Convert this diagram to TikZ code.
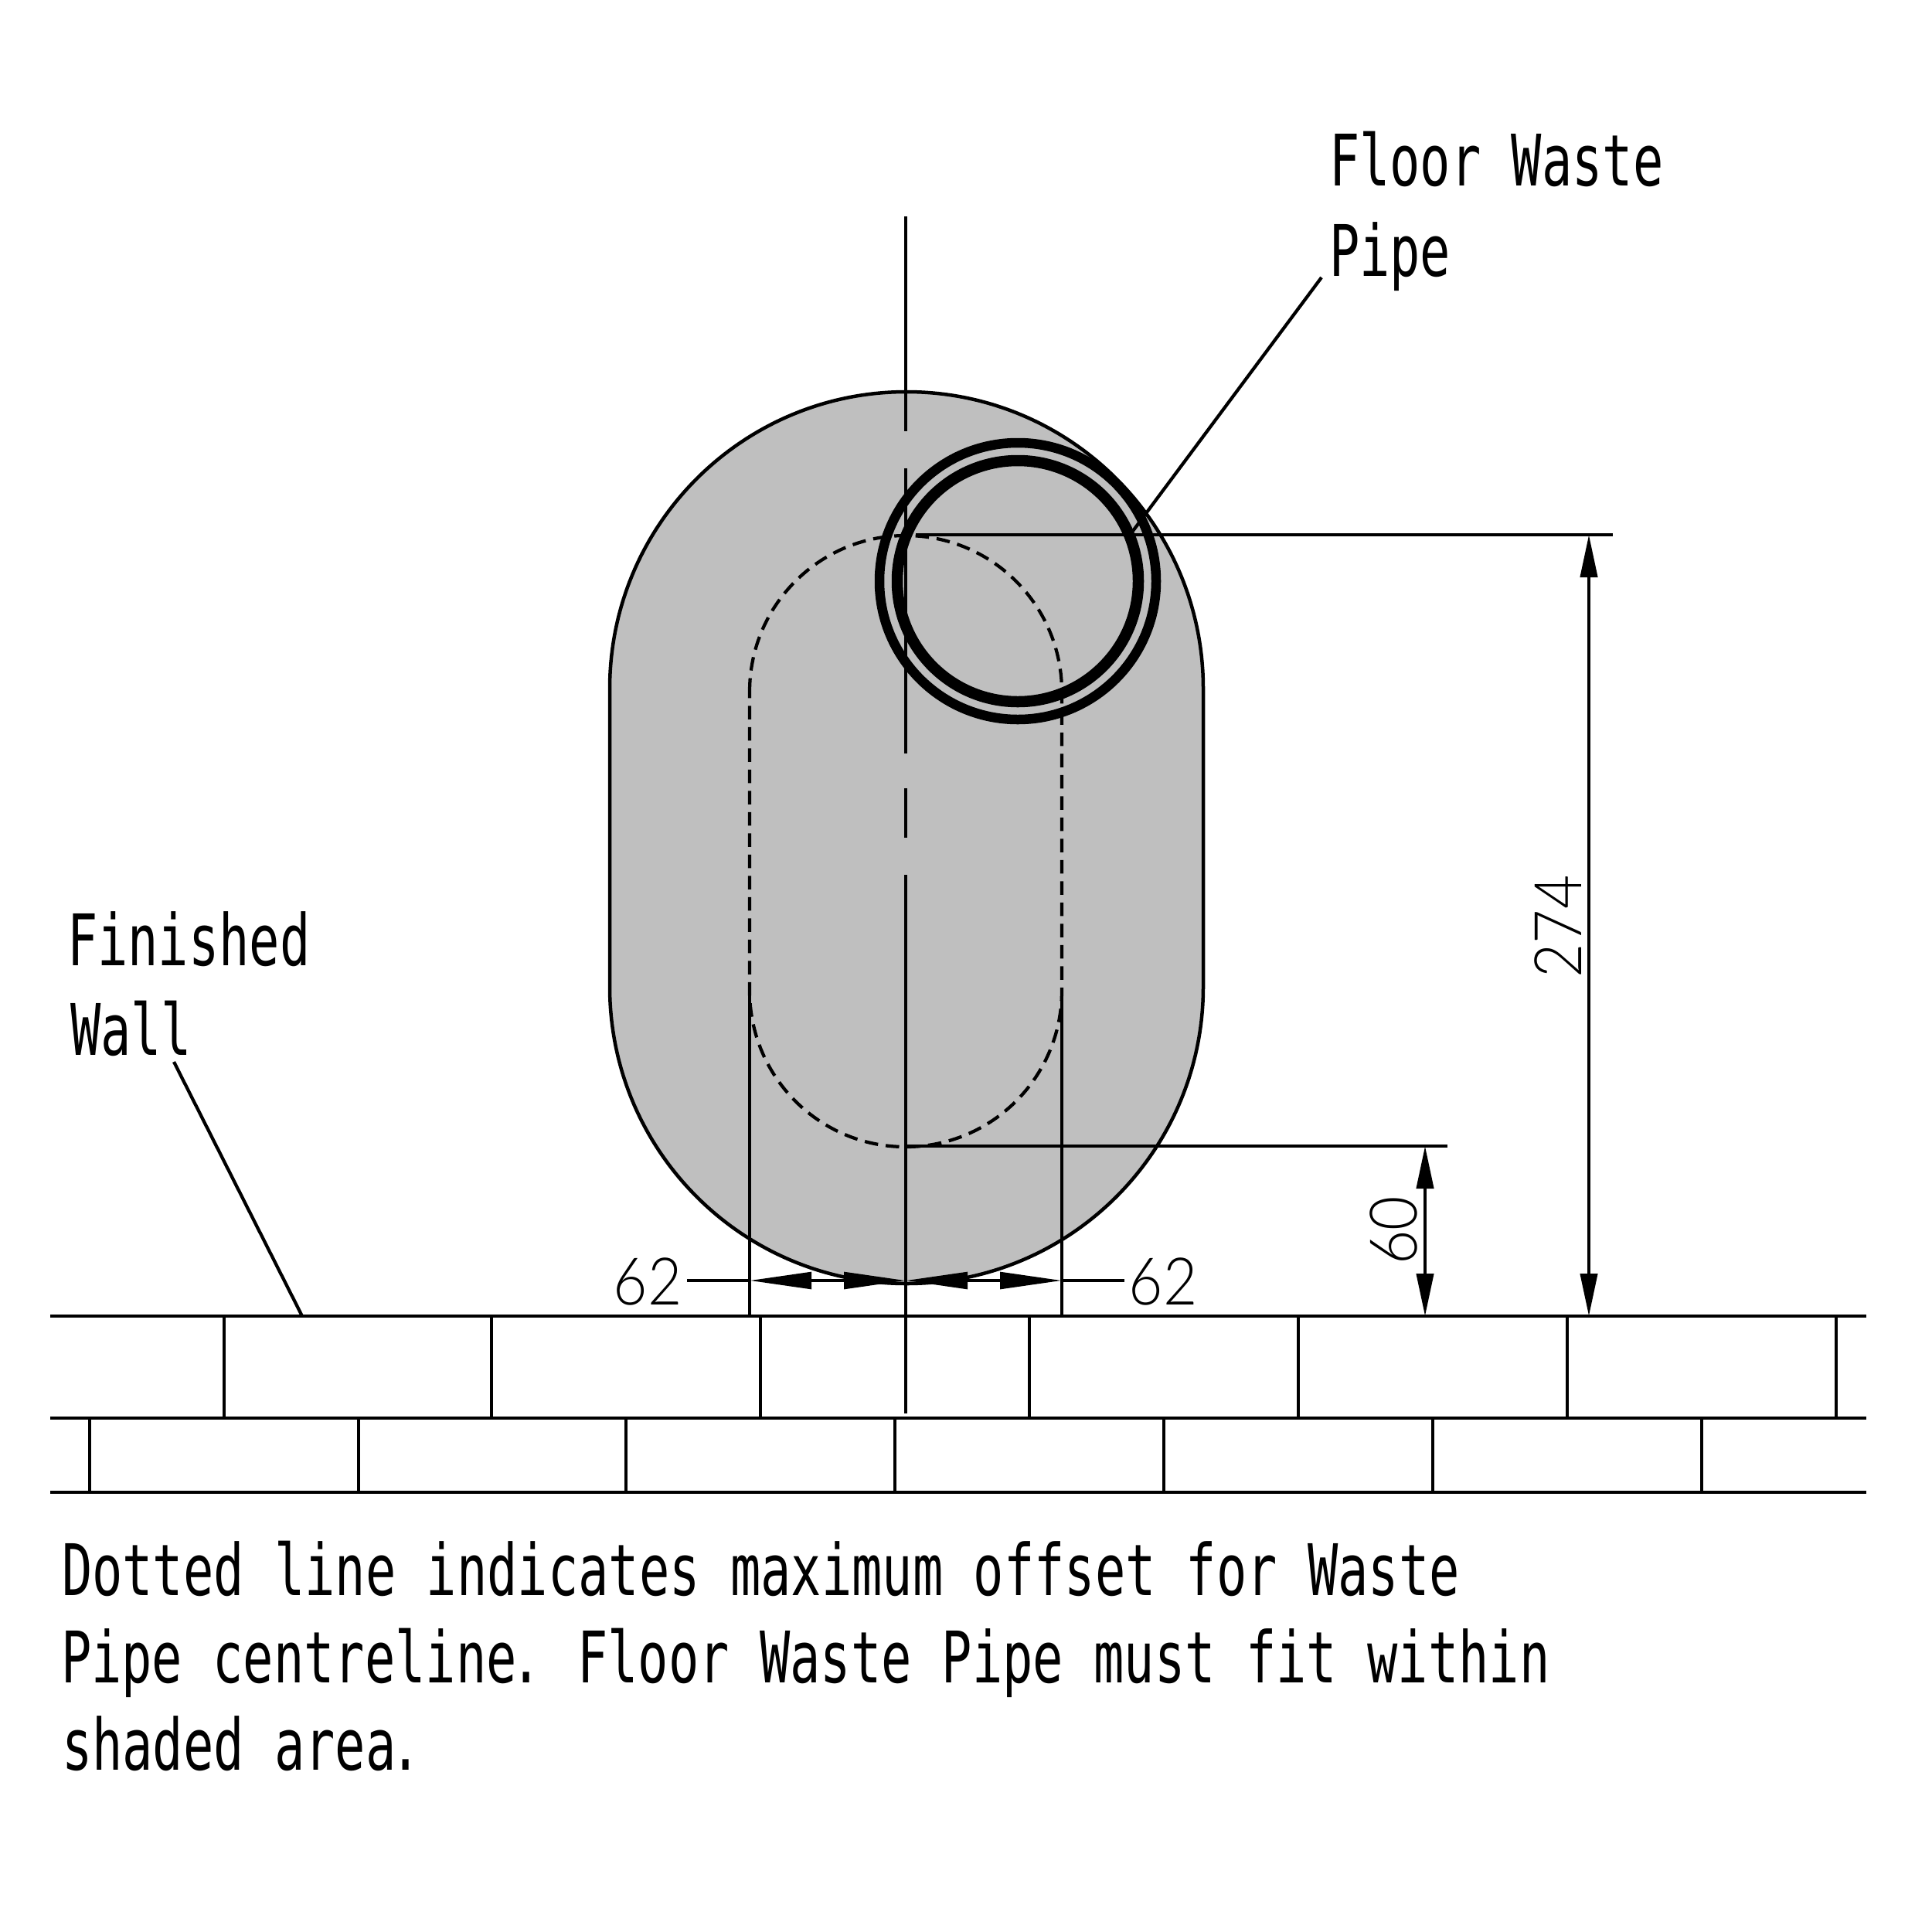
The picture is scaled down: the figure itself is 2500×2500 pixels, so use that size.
\documentclass[tikz,border=0pt]{standalone}
\usepackage{fontspec}
\usetikzlibrary{arrows.meta}
\newfontfamily\labelfont[FakeStretch=0.71]{DejaVu Sans Mono}
\newfontfamily\dimfont[FakeStretch=0.9]{Lato Light}
\definecolor{shade}{RGB}{191,191,191}
\tikzset{
  every node/.style={inner sep=0pt,outer sep=0pt},
  thinline/.style={line width=1.7pt,black},
  wall/.style={line width=1.9pt,black},
  dottedshape/.style={line width=1.7pt,black,dash pattern=on 7pt off 4pt},
  note/.style={anchor=base west,font=\labelfont\fontsize{36.8}{36.8}\selectfont},
  dimtext/.style={anchor=center,font=\dimfont\fontsize{34}{34}\selectfont},
  hdim/.style={thinline,{Triangle[length=32pt,width=8.6pt]}-{Triangle[length=32pt,width=8.6pt]}},
  vdim/.style={thinline,{Triangle[length=22pt,width=8.8pt]}-{Triangle[length=22pt,width=8.8pt]}}
}
\begin{document}
\begin{tikzpicture}[x=0.4pt,y=-0.4pt]
\useasboundingbox (0,0) rectangle (2500,2500);
% shaded area
\path[fill=shade,draw=black,line width=1.8pt]
  (789,891) arc[start angle=180,end angle=360,radius=384]
  -- (1557,1277) arc[start angle=0,end angle=180,radius=384] -- cycle;
% maximum offset outline
\draw[dottedshape]
  (970,895) arc[start angle=180,end angle=360,radius=202]
  -- (1374,1282) arc[start angle=0,end angle=180,radius=202] -- cycle;
% centreline
\draw[thinline] (1172,280) -- (1172,558);
\draw[thinline] (1172,606) -- (1172,975);
\draw[thinline] (1172,1020) -- (1172,1084);
\draw[thinline] (1172,1132) -- (1172,1829);
% waste pipe
\node[circle,minimum size=143.2pt,draw=black,line width=5pt] (pipeO) at (1317,752) {};
\node[circle,minimum size=124.8pt,draw=black,line width=5.8pt] (pipeI) at (1317,752) {};
% wall
\coordinate (w1L) at (65,1703); \coordinate (w1R) at (2415,1703);
\coordinate (w2L) at (65,1835); \coordinate (w2R) at (2415,1835);
\coordinate (w3L) at (65,1931); \coordinate (w3R) at (2415,1931);
\draw[wall] (w1L) -- (w1R);
\draw[wall] (w2L) -- (w2R);
\draw[wall] (w3L) -- (w3R);
\foreach \x in {290,636,984,1332,1680,2028,2376} \draw[thinline] (\x,1703) -- (\x,1835);
\foreach \x in {116,464,810,1158,1506,1854,2202} \draw[thinline] (\x,1835) -- (\x,1931);
% labels
\node[note] (floor) at (1720,240) {Floor Waste};
\node[note] (pipe) at (1720,357) {Pipe};
\node[note] (finished) at (87,1249) {Finished};
\node[note] (wallt) at (91,1365) {Wall};
\node[note] (n1) at (80,2064) {Dotted line indicates maximum offset for Waste};
\node[note] (n2) at (79,2177) {Pipe centreline\kern-3pt. \kern-2.4pt Floor Waste Pipe must fit within};
\node[note] (n3) at (80,2290) {shaded area\kern-3pt.};
% leaders
\coordinate (pipeLeadA) at (1710,359); \coordinate (pipeLeadB) at (1466,687);
\coordinate (wallLeadA) at (225,1374); \coordinate (wallLeadB) at (391,1703);
\draw[thinline] (pipeLeadA) -- (pipeLeadB);
\draw[thinline] (wallLeadA) -- (wallLeadB);
% extension lines
\coordinate (topExtA) at (1185,692); \coordinate (topExtB) at (2087,692);
\coordinate (lowExtA) at (1172,1483); \coordinate (lowExtB) at (1873,1483);
\coordinate (extLa) at (970,1282); \coordinate (extLb) at (970,1703);
\coordinate (extRa) at (1374,1282); \coordinate (extRb) at (1374,1703);
\draw[thinline] (topExtA) -- (topExtB);
\draw[thinline] (lowExtA) -- (lowExtB);
\draw[thinline] (extLa) -- (extLb);
\draw[thinline] (extRa) -- (extRb);
% dimensions
\coordinate (dL) at (970,1657); \coordinate (dC) at (1172,1657); \coordinate (dR) at (1374,1657);
\coordinate (dLo) at (889,1657); \coordinate (dRo) at (1455,1657);
\draw[thinline] (dLo) -- (dL);
\draw[thinline] (dR) -- (dRo);
\draw[hdim] (dL) -- (dC);
\draw[hdim] (dC) -- (dR);
\coordinate (v60a) at (1844,1483); \coordinate (v60b) at (1844,1703);
\coordinate (v274a) at (2056,692); \coordinate (v274b) at (2056,1703);
\draw[vdim] (v60a) -- (v60b);
\draw[vdim] (v274a) -- (v274b);
\node[dimtext] (d62l) at (838,1658) {62};
\node[dimtext] (d62r) at (1505,1658) {62};
\node[dimtext,rotate=90] (d60) at (1803,1592) {60};
\node[dimtext,rotate=90] (d274) at (2016,1199) {274};
\end{tikzpicture}
\end{document}
